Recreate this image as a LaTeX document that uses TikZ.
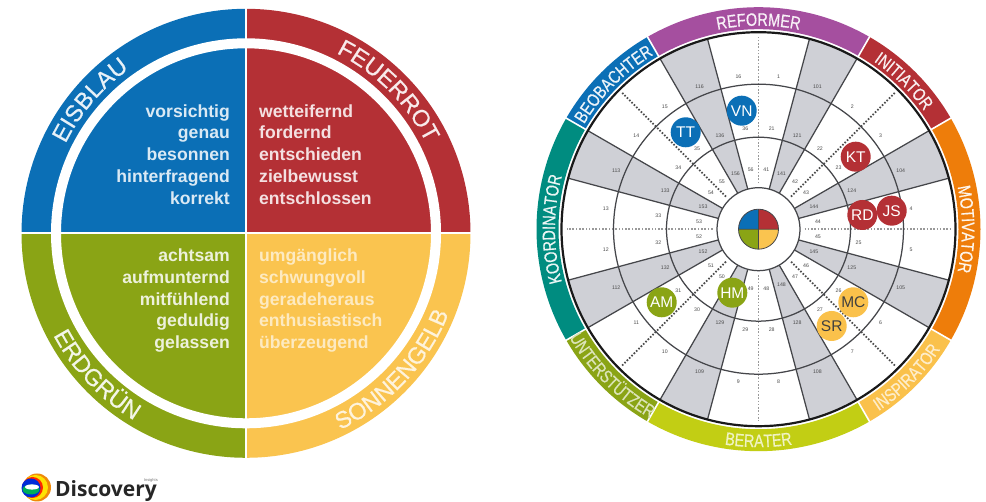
\documentclass[tikz,border=0pt]{standalone}
\usepackage{fontspec}
\setmainfont{Liberation Sans}
\newfontfamily\bandfont[FakeStretch=0.8,FakeBold=0.6]{Liberation Sans}
\newfontfamily\wedgefont[FakeBold=0.6]{Liberation Sans}
\newfontfamily\logofont{Open Sans}
\usetikzlibrary{decorations.text}
\definecolor{cBlue}{HTML}{0B6FB6}
\definecolor{cRed}{HTML}{B43035}
\definecolor{cGreen}{HTML}{8AA415}
\definecolor{cYellow}{HTML}{FAC44F}
\definecolor{cPurple}{HTML}{A54F9F}
\definecolor{cOrange}{HTML}{EE7D0A}
\definecolor{cLime}{HTML}{C2CE14}
\definecolor{cTeal}{HTML}{008C80}
\definecolor{cGrey}{HTML}{CFD0D6}
\definecolor{cLine}{HTML}{45464A}
\tikzset{
  quality/.style={font=\fontsize{17.6}{18}\selectfont\bfseries,inner sep=0pt},
  qright/.style={quality,anchor=base east},
  qleft/.style={quality,anchor=base west},
  cellnum/.style={font=\fontsize{5.2}{6}\selectfont,text=black!70,inner sep=0pt},
  bubble/.style={circle,minimum size=30pt,inner sep=0pt,font=\fontsize{15.5}{16}\selectfont},
  spoke/.style={cLine,line width=1.25pt},
  ringline/.style={cLine,line width=1.25pt},
  dotline/.style={line width=1.7pt,dash pattern=on 1.6pt off 1.7pt},
}
% centre angle, baseline radius, half span, sign (+1 clockwise, -1 anticlockwise), size, colour, text
\newcommand{\arclabel}[7]{%
  \pgfmathsetmacro{\sa}{#1+#4*#3}\pgfmathsetmacro{\ea}{#1-#4*#3}%
  \path[decorate,decoration={text along path,text align=center,text color=#6,
    text={|#5|#7}}]
    (\sa:#2) arc[start angle=\sa,end angle=\ea,radius=#2];}
\newcommand{\bandseg}[3]{%
  \fill[#3] (#1:222) arc[start angle=#1,end angle=#2,radius=222] -- (#2:200)
    arc[start angle=#2,end angle=#1,radius=200] -- cycle;}
\newcommand{\lf}{\wedgefont\fontsize{23.5}{24}\selectfont}
\newcommand{\bsz}{\bandfont\fontsize{18}{18}\selectfont}
\begin{document}
\begin{tikzpicture}[x=1pt,y=1pt]
\useasboundingbox (0,0) rectangle (986,502);
\fill[white] (0,0) rectangle (986,502);

% ---------- left wheel ----------
\begin{scope}[shift={(246,268.7)}]
  \fill[cBlue]   (0,0) -- (90:224.5) arc[start angle=90,end angle=180,radius=224.5] -- cycle;
  \fill[cRed]    (0,0) -- (0:224.5) arc[start angle=0,end angle=90,radius=224.5] -- cycle;
  \fill[cGreen]  (0,0) -- (180:224.5) arc[start angle=180,end angle=270,radius=224.5] -- cycle;
  \fill[cYellow] (0,0) -- (270:224.5) arc[start angle=270,end angle=360,radius=224.5] -- cycle;
  \draw[white,line width=10pt] (0,0) circle[radius=190];
  \draw[white,line width=1.6pt] (-226,0) -- (226,0) (0,-226) -- (0,226);
  \arclabel{139.5}{201.5}{40}{1}{\lf}{white!90!cBlue}{EISBLAU}
  \arclabel{45}{201.5}{40}{1}{\lf}{white!90!cRed}{FEUERROT}
  \arclabel{223.5}{218}{40}{-1}{\lf}{white!90!cGreen}{ERDGRÜN}
  \arclabel{-43}{218}{40}{-1}{\lf}{white!80!cYellow}{SONNENGELB}
\end{scope}

\foreach \t [count=\i] in {vorsichtig,genau,besonnen,hinterfragend,korrekt}
  \node[qright,text=white!85!cBlue] (qb\i) at (230,{502-117.3-(\i-1)*21.7}) {\t};
\foreach \t [count=\i] in {wetteifernd,fordernd,entschieden,zielbewusst,entschlossen}
  \node[qleft,text=white!85!cRed] (qr\i) at (259,{502-117.3-(\i-1)*21.7}) {\t};
\foreach \t [count=\i] in {achtsam,aufmunternd,mitfühlend,geduldig,gelassen}
  \node[qright,text=white!85!cGreen] (qg\i) at (230,{502-261.7-(\i-1)*21.7}) {\t};
\foreach \t [count=\i] in {umgänglich,schwungvoll,geradeheraus,enthusiastisch,überzeugend}
  \node[qleft,text=white!65!cYellow] (qy\i) at (259,{502-261.7-(\i-1)*21.7}) {\t};

% ---------- right wheel ----------
\begin{scope}[shift={(758.5,272.8)}]
  % outer band
  \bandseg{60}{120}{cPurple}
  \bandseg{30}{60}{cRed}
  \bandseg{-30}{30}{cOrange}
  \bandseg{-60}{-30}{cYellow!95!orange}
  \bandseg{-120}{-60}{cLime}
  \bandseg{-150}{-120}{cGreen}
  \bandseg{150}{210}{cTeal}
  \bandseg{120}{150}{cBlue}
  \foreach \a in {30,60,120,150,210,240,300,330}
    \draw[white,line width=1.6pt] (\a:198) -- (\a:223);
  \arclabel{90}{203.5}{40}{1}{\bsz}{white!92!cPurple}{REFORMER}
  \arclabel{45.5}{203.5}{40}{1}{\bsz}{white!92!cRed}{INITIATOR}
  \arclabel{0}{203.5}{40}{1}{\bsz}{white!92!cOrange}{MOTIVATOR}
  \arclabel{135}{203.5}{40}{1}{\bsz}{white!92!cBlue}{BEOBACHTER}
  \arclabel{180}{203.5}{40}{1}{\bsz}{white!92!cTeal}{KOORDINATOR}
  \arclabel{-45}{218}{40}{-1}{\bsz}{white!70!cYellow}{INSPIRATOR}
  \arclabel{-90}{218}{40}{-1}{\bsz}{white!75!cLime}{BERATER}
  \arclabel{-135}{218}{40}{-1}{\bsz}{white!70!cGreen}{UNTERSTÜTZER}

  % grey cells
  \foreach \a in {15,60,105,150,195,240,285,330}
    \fill[cGrey] (\a:41) -- (\a:197) arc[start angle=\a,end angle=\a+15,radius=197] -- ({\a+15}:41)
       arc[start angle=\a+15,end angle=\a,radius=41] -- cycle;
  % spokes
  \foreach \a in {15,30,60,75,105,120,150,165,195,210,240,255,285,300,330,345}
    \draw[spoke] (\a:41) -- (\a:197);
  % dotted axes
  \foreach \a in {0,90,180,270}
    \draw[dotline,black!40] (\a:46) -- (\a:192);
  \foreach \a in {45,135,225,315}
    \draw[dotline,black!70] (\a:46) -- (\a:193);
  % rings
  \draw[ringline] (0,0) circle[radius=92];
  \draw[ringline] (0,0) circle[radius=145];
  \draw[black!90,line width=2.2pt] (0,0) circle[radius=197];
  \draw[ringline,fill=white] (0,0) circle[radius=41.5];

  % cell numbers: angle / outer value; inner rings are +20 and +40
  % (24 and 149 lie under the RD and HM discs and do not show)
  \foreach \a/\v in {82.5/1,67.5/101,52.5/2,37.5/3,22.5/104,7.5/4,-7.5/5,-22.5/105,
      -37.5/6,-52.5/7,-67.5/108,-82.5/8,-97.5/9,-112.5/109,-127.5/10,-142.5/11,
      -157.5/112,-172.5/12,-187.5/13,-202.5/113,-217.5/14,-232.5/15,-247.5/116,-262.5/16} {
    \pgfmathtruncatemacro{\vb}{\v+20}
    \pgfmathtruncatemacro{\vc}{\v+40}
    \node[cellnum] (o\v) at (\a:154) {\v};
    \ifnum\vb=24\relax\else\node[cellnum] (m\v) at (\a:101) {\vb};\fi
    \ifnum\vc=149\relax\else\node[cellnum] (i\v) at (\a:60) {\vc};\fi
  }

  % centre pie
  \fill[cBlue] (0,0) -- (90:20) arc[start angle=90,end angle=180,radius=20] -- cycle;
  \fill[cRed] (0,0) -- (0:20) arc[start angle=0,end angle=90,radius=20] -- cycle;
  \fill[cGreen] (0,0) -- (180:20) arc[start angle=180,end angle=270,radius=20] -- cycle;
  \fill[cYellow] (0,0) -- (270:20) arc[start angle=270,end angle=360,radius=20] -- cycle;
  \draw[cLine,line width=.8pt] (0,0) circle[radius=20] (-20,0) -- (20,0) (0,-20) -- (0,20);
\end{scope}

% people
\node[bubble,fill=cBlue,text=white] (VN) at (741.7,391.3) {VN};
\node[bubble,fill=cBlue,text=white] (TT) at (685.7,369.7) {TT};
\node[bubble,fill=cRed,text=white] (KT) at (855.7,345.3) {KT};
\node[bubble,fill=cRed,text=white] (RD) at (862.3,287) {RD};
\node[bubble,fill=cRed,text=white] (JS) at (891.7,291.3) {JS};
\node[bubble,fill=cYellow!95!orange,text=black!75] (MC) at (853.3,199.7) {MC};
\node[bubble,fill=cYellow!95!orange,text=black!75] (SR) at (831.7,176) {SR};
\node[bubble,fill=cGreen,text=white] (AM) at (661.7,199.7) {AM};
\node[bubble,fill=cGreen,text=white] (HM) at (732.3,209.3) {HM};

% ---------- logo ----------
\fill[cOrange!90!yellow] (37,14.5) circle[radius=14];
\fill[yellow!85!orange] (35.5,14.5) circle[radius=12.5];
\fill[red!70!orange] (32.5,14.5) circle[radius=10.5];
\fill[blue!70!cTeal] (31,14) circle[radius=9.5];
\fill[cTeal!70!green] (31,12.5) ellipse[x radius=8.5,y radius=5];
\fill[white] (32,15) ellipse[x radius=7,y radius=2.6];
\node[anchor=base west,inner sep=0pt,font=\logofont\bfseries\fontsize{21}{22}\selectfont,text=black!85] (logo) at (55,5.3) {Discovery};
\node[anchor=base east,inner sep=0pt,font=\fontsize{4}{4}\selectfont,text=black!55] (logosub) at (158,20) {Insights};
\end{tikzpicture}
\end{document}
